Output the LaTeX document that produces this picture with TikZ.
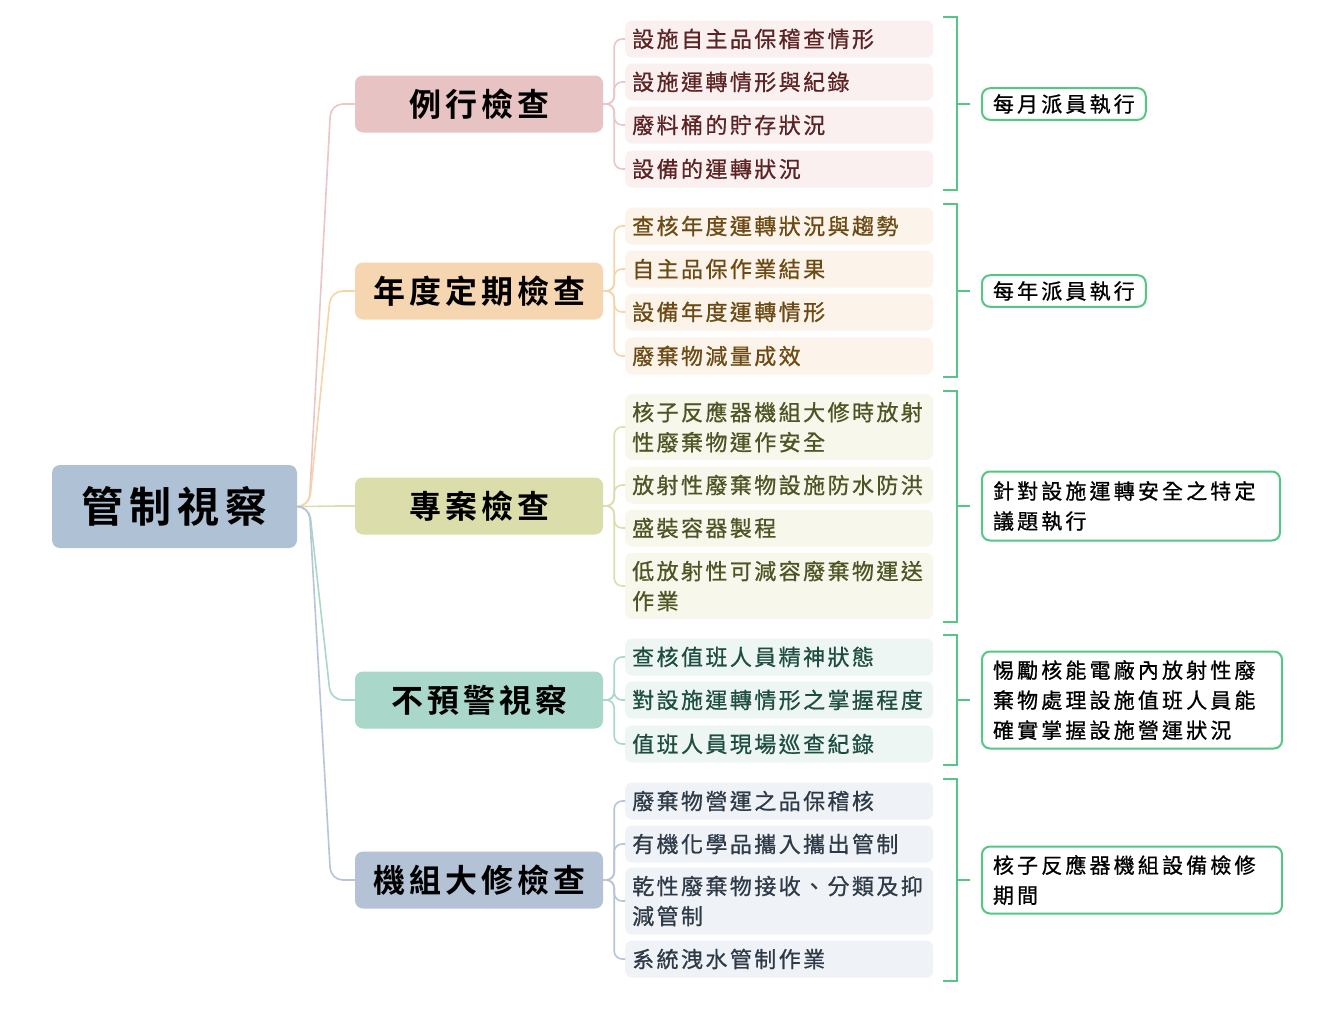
\documentclass[tikz,border=0pt]{standalone}
\usepackage{fontspec}
\usetikzlibrary{calc}
\newfontfamily\cjkroot[LetterSpace=14]{Noto Sans CJK TC Bold}
\newfontfamily\cjkone[LetterSpace=12.5]{Noto Sans CJK TC Bold}
\newfontfamily\cjktwo[LetterSpace=11,FakeBold=0.8]{Noto Sans CJK TC}
\newfontfamily\cjkright[LetterSpace=15,FakeBold=0.8]{Noto Sans CJK TC}
\definecolor{rootfill}{HTML}{AFC1D5}
\definecolor{pkA}{HTML}{E8C3C4}\definecolor{pkL}{HTML}{EBC6C8}\definecolor{pkB}{HTML}{FBF0F0}\definecolor{pkT}{HTML}{5B2323}
\definecolor{peA}{HTML}{F6D6B1}\definecolor{peL}{HTML}{F5D4AA}\definecolor{peB}{HTML}{FCF3EA}\definecolor{peT}{HTML}{6B4A14}
\definecolor{olA}{HTML}{DBDDAA}\definecolor{olL}{HTML}{DDDDB0}\definecolor{olB}{HTML}{F7F7EC}\definecolor{olT}{HTML}{4E5524}
\definecolor{tlA}{HTML}{A9D7C9}\definecolor{tlL}{HTML}{A8D8C8}\definecolor{tlB}{HTML}{EEF6F3}\definecolor{tlT}{HTML}{1E4E42}
\definecolor{blA}{HTML}{B3C2D5}\definecolor{blL}{HTML}{B8C4D8}\definecolor{blB}{HTML}{EFF2F6}\definecolor{blT}{HTML}{2E3A48}
\definecolor{grn}{HTML}{55C785}
\tikzset{
  rootbox/.style={fill=rootfill, rounded corners=8pt, minimum width=245pt, minimum height=83pt, inner sep=0pt, font=\cjkroot\fontsize{42}{48}\selectfont, text=black},
  onebox/.style={rounded corners=8pt, minimum width=248pt, minimum height=57pt, inner sep=0pt, font=\cjkone\fontsize{32}{36}\selectfont, text=black},
  twobox/.style={rounded corners=7pt, minimum height=37pt, text width=294pt, inner xsep=7pt, inner ysep=4pt, align=left, anchor=west, font=\cjktwo\fontsize{22}{30}\selectfont},
  rbox/.style={draw=grn, line width=2pt, fill=white, rounded corners=8pt, anchor=west, align=left, inner xsep=11pt, inner ysep=6pt, font=\cjkright\fontsize{21}{30}\selectfont, text=black},
  rootline/.style={line width=1.6pt, rounded corners=12pt},
  kidline/.style={line width=1.6pt, rounded corners=8pt},
  brk/.style={draw=grn, line width=2pt},
}
\begin{document}
\begin{tikzpicture}[x=1pt,y=-1pt]
\useasboundingbox[fill=white] (0,0) rectangle (1334,1010);
% root
\node[rootbox] (root) at (174.5,506.5) {管制視察};
% level 1
\node[onebox, fill=pkA] (a) at (479,104) {例行檢查};
\node[onebox, fill=peA] (b) at (479,291) {年度定期檢查};
\node[onebox, fill=olA] (c) at (479,506) {專案檢查};
\node[onebox, fill=tlA] (d) at (479,700) {不預警視察};
\node[onebox, fill=blA] (e) at (479,880) {機組大修檢查};
% root connectors
\foreach \n/\col in {a/pkL,b/peL,c/olL,d/tlL,e/blL}{
  \draw[rootline, draw=\col] (root.east) -- ++(12,0) -- ($(\n.west)+(-24,0)$) -- (\n.west);
}
% level 2 group a
\node[twobox, fill=pkB, text=pkT] (a1) at (625,39) {設施自主品保稽查情形};
\node[twobox, fill=pkB, text=pkT] (a2) at (625,82) {設施運轉情形與紀錄};
\node[twobox, fill=pkB, text=pkT] (a3) at (625,125) {廢料桶的貯存狀況};
\node[twobox, fill=pkB, text=pkT] (a4) at (625,169) {設備的運轉狀況};
% group b
\node[twobox, fill=peB, text=peT] (b1) at (625,226) {查核年度運轉狀況與趨勢};
\node[twobox, fill=peB, text=peT] (b2) at (625,269) {自主品保作業結果};
\node[twobox, fill=peB, text=peT] (b3) at (625,312) {設備年度運轉情形};
\node[twobox, fill=peB, text=peT] (b4) at (625,356) {廢棄物減量成效};
% group c
\node[twobox, fill=olB, text=olT, minimum height=66pt] (c1) at (625,427) {核子反應器機組大修時放射\\性廢棄物運作安全};
\node[twobox, fill=olB, text=olT] (c2) at (625,485) {放射性廢棄物設施防水防洪};
\node[twobox, fill=olB, text=olT] (c3) at (625,528) {盛裝容器製程};
\node[twobox, fill=olB, text=olT, minimum height=66pt] (c4) at (625,586) {低放射性可減容廢棄物運送\\作業};
% group d
\node[twobox, fill=tlB, text=tlT] (d1) at (625,657) {查核值班人員精神狀態};
\node[twobox, fill=tlB, text=tlT] (d2) at (625,700) {對設施運轉情形之掌握程度};
\node[twobox, fill=tlB, text=tlT] (d3) at (625,744) {值班人員現場巡查紀錄};
% group e
\node[twobox, fill=blB, text=blT] (e1) at (625,801) {廢棄物營運之品保稽核};
\node[twobox, fill=blB, text=blT] (e2) at (625,844) {有機化學品攜入攜出管制};
\node[twobox, fill=blB, text=blT, minimum height=67pt] (e3) at (625,901) {乾性廢棄物接收、分類及抑\\減管制};
\node[twobox, fill=blB, text=blT] (e4) at (625,959) {系統洩水管制作業};
% child connectors
\foreach \p/\col/\kids in {a/pkL/{a1,a2,a3,a4}, b/peL/{b1,b2,b3,b4}, c/olL/{c1,c2,c3,c4}, d/tlL/{d1,d2,d3}, e/blL/{e1,e2,e3,e4}}{
  \foreach \k in \kids {
    \draw[kidline, draw=\col] (\p.east) -- ++(11,0) |- (\k.west);
  }
}
% right boxes
\node[rbox] (r1) at (981,104) {每月派員執行};
\node[rbox] (r2) at (981,291) {每年派員執行};
\node[rbox, text width=276pt, minimum height=69pt] (r3) at (981,506) {針對設施運轉安全之特定\\議題執行};
\node[rbox, text width=278pt, minimum height=97pt] (r4) at (981,700) {惕勵核能電廠內放射性廢\\棄物處理設施值班人員能\\確實掌握設施營運狀況};
\node[rbox, text width=278pt, minimum height=67pt] (r5) at (981,880) {核子反應器機組設備檢修\\期間};
% brackets
\foreach \t/\bt/\m/\r in {17/190/104/r1, 204/377/291/r2, 391/622/506/r3, 635/765/700/r4, 779/981/880/r5}{
  \draw[brk] (943,\t) -- (957,\t) -- (957,\bt) -- (943,\bt);
  \coordinate (bm\r) at (957,\m);
  \draw[brk] (bm\r) -- ($(\r.west)+(-11,0)$);
}
\end{tikzpicture}
\end{document}
